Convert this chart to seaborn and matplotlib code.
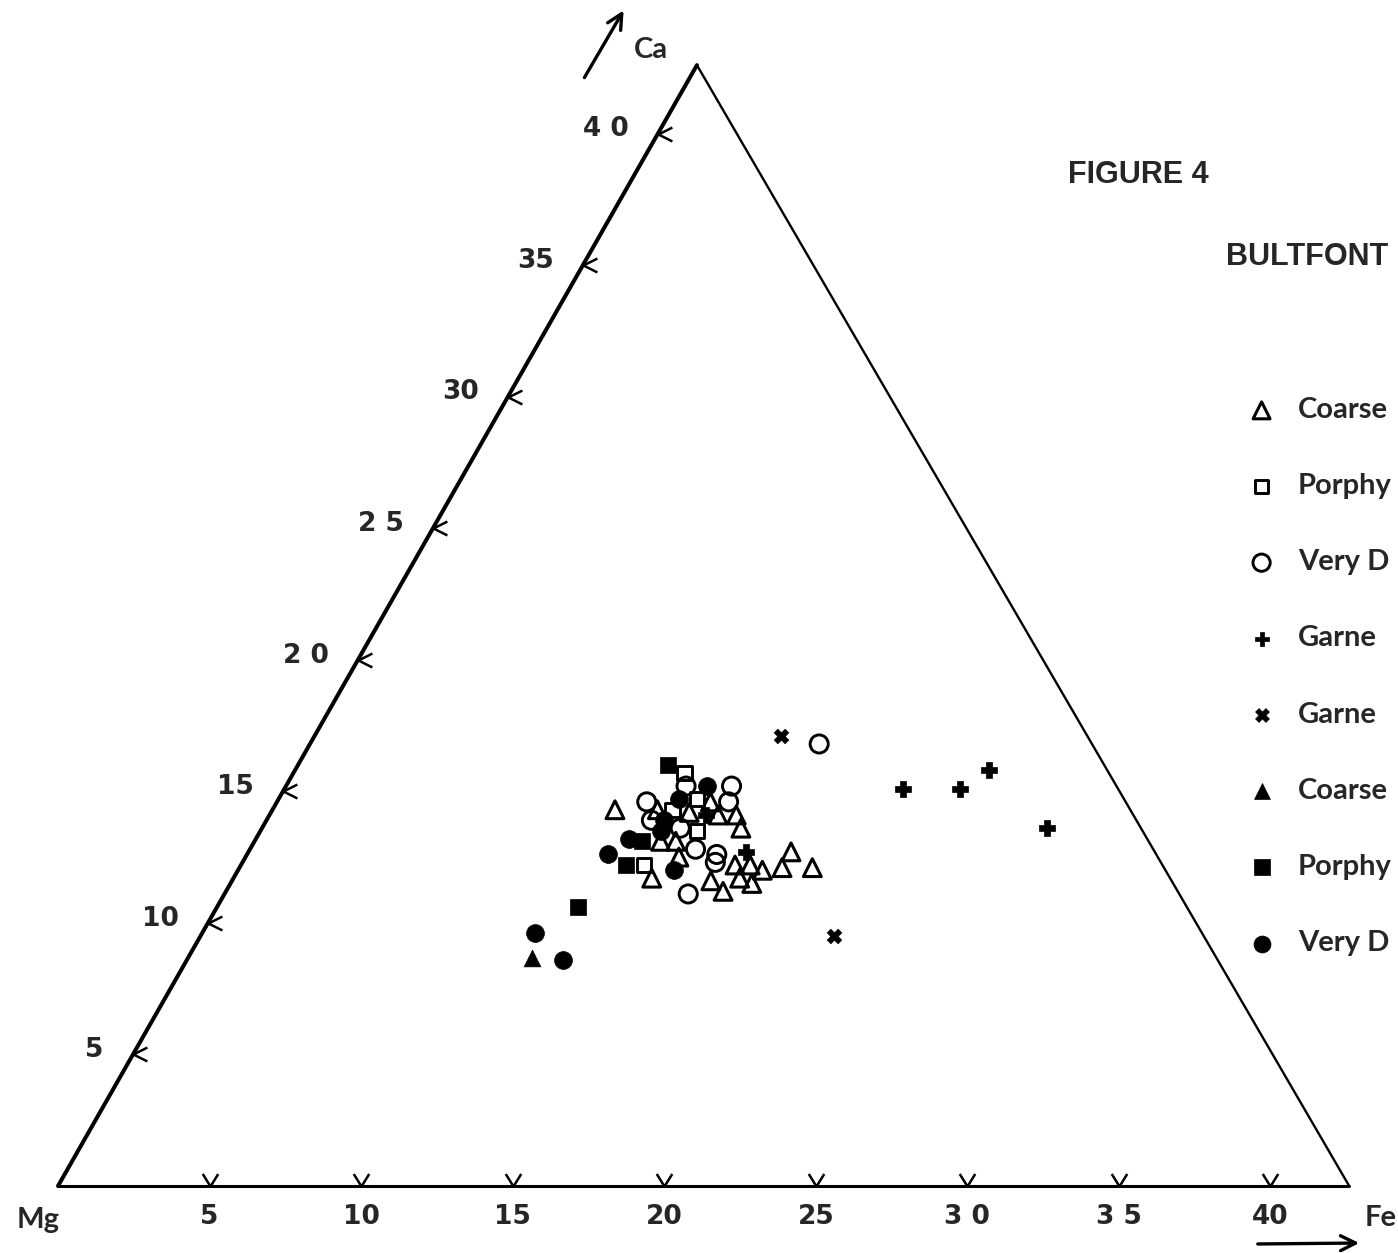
import numpy as np
import pandas as pd
import matplotlib
matplotlib.use("Agg")
import matplotlib.pyplot as plt
from matplotlib.path import Path
from matplotlib.markers import MarkerStyle
import seaborn as sns

# ---------------- data: ternary Mg-Fe-Ca (atomic %), Mg is the rest ----------------
S = 42.6            # full scale of the triangle edges
APEX_X, APEX_Y = 21.08, 36.98   # Ca corner in plot units

coarse_open_fe = [11.3, 12.7, 13.4, 13.8, 13.8, 13.9, 14.3, 14.3, 14.8, 15.4, 15.8,
                  15.8, 16.4, 16.3, 16.8, 16.7, 17.2, 17.3, 17.9, 17.9, 18.9]
coarse_open_ca = [14.3, 14.3, 13.1, 11.7, 14.2, 13.1, 12.5, 14.6, 14.1, 14.1, 13.6,
                  11.6, 11.2, 12.2, 12.2, 11.7, 11.5, 12.0, 12.1, 12.7, 12.1]

porph_open_fe = [12.9, 13.2, 13.8, 14.4, 13.3]
porph_open_ca = [15.7, 14.3, 14.7, 13.5, 12.2]

vdef_open_fe = [13.2, 14.7, 12.2, 14.9, 12.7, 13.8, 14.7, 15.5, 15.6, 15.3, 16.8]
vdef_open_ca = [15.2, 15.2, 14.6, 14.6, 13.9, 13.6, 12.8, 12.6, 12.3, 11.1, 16.8]

garnet_plus_fe = [14.4, 16.4, 20.4, 22.3, 22.9, 25.9]
garnet_plus_ca = [14.1, 12.7, 15.1, 15.1, 15.8, 13.6]

garnet_x_fe = [15.4, 20.9]
garnet_x_ca = [17.1, 9.5]

coarse_fill_fe = [11.35]
coarse_fill_ca = [8.65]

porph_fill_fe = [12.2, 12.8, 12.7, 11.9]
porph_fill_ca = [16.0, 13.1, 12.2, 10.6]

vdef_fill_fe = [13.9, 13.2, 13.1, 13.2, 12.3, 11.9, 14.4, 11.0, 12.4]
vdef_fill_ca = [15.2, 14.7, 13.9, 13.5, 13.2, 12.6, 12.0, 9.6, 8.6]

legend_labels = ["Coarse", "Porphy", "Very D", "Garne", "Garne", "Coarse", "Porphy", "Very D"]

fe_ticks = [5, 10, 15, 20, 25, 30, 35, 40]
fe_tick_labels = ["5", "10", "15", "20", "25", "3 0", "3 5", "40"]
ca_ticks = [5, 10, 15, 20, 25, 30, 35, 40]
ca_tick_labels = ["5", "10", "15", "2 0", "2 5", "30", "35", "4 0"]


def tern(fe, ca):
    fe = np.asarray(fe, float)
    ca = np.asarray(ca, float)
    return fe + ca * APEX_X / S, ca * APEX_Y / S


groups = [
    (coarse_open_fe, coarse_open_ca, dict(marker="^", s=165, facecolor="none", linewidth=2.2)),
    (porph_open_fe, porph_open_ca, dict(marker="s", s=105, facecolor="none", linewidth=2.1)),
    (vdef_open_fe, vdef_open_ca, dict(marker="o", s=170, facecolor="none", linewidth=2.1)),
    (garnet_plus_fe, garnet_plus_ca, dict(marker="P", s=125, facecolor="black", linewidth=0.5)),
    (garnet_x_fe, garnet_x_ca, dict(marker="X", s=110, facecolor="black", linewidth=0.5)),
    (coarse_fill_fe, coarse_fill_ca, dict(marker="^", s=145, facecolor="black", linewidth=0.5)),
    (porph_fill_fe, porph_fill_ca, dict(marker="s", s=135, facecolor="black", linewidth=0.5)),
    (vdef_fill_fe, vdef_fill_ca, dict(marker="o", s=165, facecolor="black", linewidth=0.5)),
]

rows = []
for gi, (fe, ca, _) in enumerate(groups):
    x, y = tern(fe, ca)
    for xi, yi in zip(x, y):
        rows.append(dict(x=xi, y=yi, group=gi))
df = pd.DataFrame(rows)

# ---------------- figure ----------------
sns.set_theme(style="white")
plt.rcParams['font.family'] = ['DejaVu Sans']

W, H = 1398, 1253
PX = 30.31           # pixels per plot unit
X0, Y0 = 58, 1186    # pixel position of the Mg corner

fig = plt.figure(figsize=(W / 100, H / 100), dpi=100)
fig.patch.set_facecolor("white")
ax = fig.add_axes([0, 0, 1, 1])
ax.set_xlim(-X0 / PX, (W - X0) / PX)
ax.set_ylim((Y0 - H) / PX, Y0 / PX)
ax.axis("off")

# triangle edges
ax.plot([0, APEX_X], [0, APEX_Y], color="black", lw=2.9, solid_capstyle="round")
ax.plot([S, APEX_X], [0, APEX_Y], color="black", lw=1.7, solid_capstyle="round")
ax.plot([0, S], [0, 0], color="black", lw=2.2, solid_capstyle="round")

# tick marks
v_path = Path([(-0.62, 1.0), (0, 0), (0.62, 1.0)], [Path.MOVETO, Path.LINETO, Path.LINETO])
lt_path = Path([(1.0, 0.5), (0, 0), (1.0, -0.5)], [Path.MOVETO, Path.LINETO, Path.LINETO])
bx, by = tern(fe_ticks, np.zeros(len(fe_ticks)))
ax.plot(bx, by, linestyle="none", marker=MarkerStyle(v_path), ms=18,
        mfc="none", mec="black", mew=1.8)
lx, ly = tern(np.zeros(len(ca_ticks)), ca_ticks)
ax.plot(lx, ly, linestyle="none", marker=MarkerStyle(lt_path), ms=20,
        mfc="none", mec="black", mew=1.8)

num_font = dict(family=["DejaVu Sans"], fontweight="bold", fontsize=19)
for xv, yv, lab in zip(bx, by, fe_tick_labels):
    ax.annotate(lab, (xv, yv), xytext=(0, -22), textcoords="offset points",
                ha="center", va="center", **num_font)
for xv, yv, lab in zip(lx, ly, ca_tick_labels):
    ax.annotate(lab, (xv, yv), xytext=(-21, 3), textcoords="offset points",
                ha="right", va="center", **num_font)

# data points
handles = []
for gi, (fe, ca, kw) in enumerate(groups):
    sub = df[df["group"] == gi]
    sns.scatterplot(data=sub, x="x", y="y", ax=ax, color="black",
                    edgecolor="black", legend=False, zorder=3, **kw)
    handles.append(ax.collections[-1])

leg = ax.legend(handles, legend_labels, loc="upper left",
                bbox_to_anchor=(1247 / W, 1 - 397 / H), frameon=False,
                prop=dict(family=["Lato", "DejaVu Sans"], size=21, weight="bold"),
                labelspacing=1.72, handlelength=1.0, handletextpad=0.75,
                borderpad=0, borderaxespad=0, markerscale=0.95)

# labels
lab_font = dict(family=["Lato", "DejaVu Sans"], fontsize=21, fontweight="bold")
fig.text(651 / W, 1 - 50 / H, "Ca", ha="center", va="center", **lab_font)
fig.text(38 / W, 1 - 1220 / H, "Mg", ha="center", va="center", **lab_font)
fig.text(1381 / W, 1 - 1218 / H, "Fe", ha="center", va="center", **lab_font)

ttl_font = dict(family=["Liberation Sans", "DejaVu Sans"], fontweight="bold", fontsize=22)
fig.text(1068 / W, 1 - 175 / H, "FIGURE 4", ha="left", va="center", **ttl_font)
fig.text(1226 / W, 1 - 257 / H, "BULTFONT", ha="left", va="center", **ttl_font)

# direction arrows
arrow = dict(arrowstyle="->,head_length=0.9,head_width=0.45", lw=2.4, color="black")
ax.annotate("", xy=(625, H - 8), xycoords="figure pixels",
            xytext=(583, H - 80), textcoords="figure pixels", arrowprops=arrow)
ax.annotate("", xy=(1362, H - 1243), xycoords="figure pixels",
            xytext=(1255, H - 1244), textcoords="figure pixels", arrowprops=arrow)

fig.savefig("out.png", dpi=100, facecolor="white")
